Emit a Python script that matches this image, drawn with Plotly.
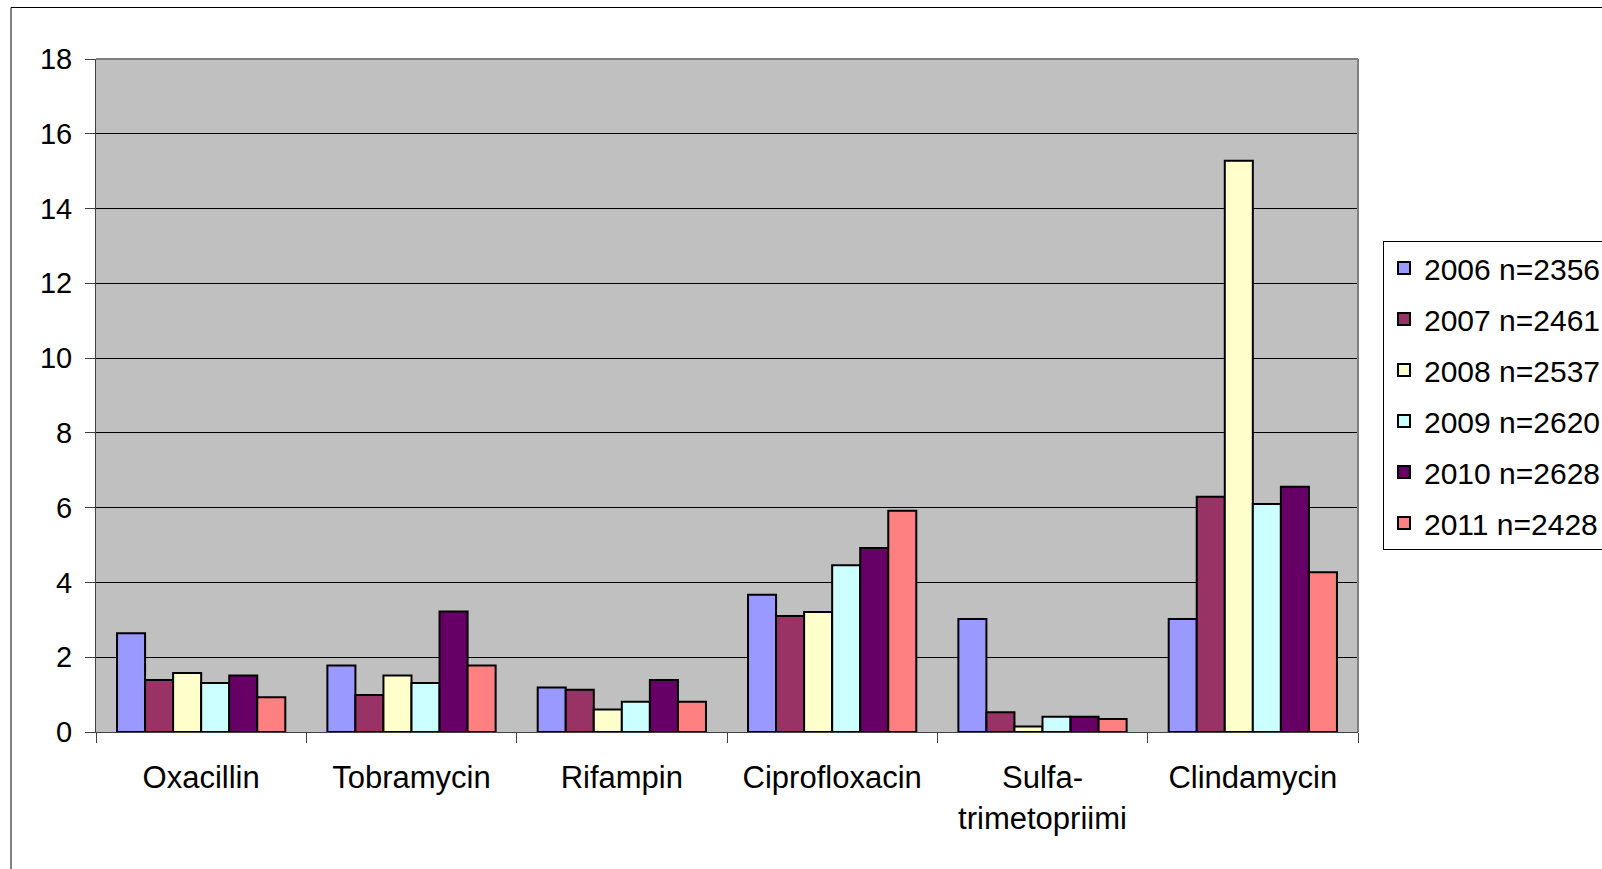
import plotly.graph_objects as go

categories = ["Oxacillin", "Tobramycin", "Rifampin", "Ciprofloxacin",
              "Sulfa-<br>trimetopriimi", "Clindamycin"]
series_names = ["2006 n=2356", "2007 n=2461", "2008 n=2537",
                "2009 n=2620", "2010 n=2628", "2011 n=2428"]
v2006 = [2.64, 1.78, 1.19, 3.67, 3.02, 3.02]
v2007 = [1.39, 0.99, 1.13, 3.10, 0.53, 6.29]
v2008 = [1.58, 1.51, 0.60, 3.21, 0.15, 15.28]
v2009 = [1.31, 1.31, 0.81, 4.46, 0.41, 6.10]
v2010 = [1.51, 3.22, 1.39, 4.92, 0.41, 6.56]
v2011 = [0.93, 1.78, 0.81, 5.92, 0.35, 4.27]
values = [v2006, v2007, v2008, v2009, v2010, v2011]
colors = ["#9999FF", "#993366", "#FFFFCC", "#CCFFFF", "#660066", "#FF8080"]
y_ticks = [0, 2, 4, 6, 8, 10, 12, 14, 16, 18]

W, H = 1602, 869
L, R, T, B = 96, 1358, 59, 732
pw, ph = R - L, B - T

fig = go.Figure()
for name, vals, col in zip(series_names, values, colors):
    fig.add_trace(go.Bar(
        x=categories, y=vals, name=name, legendgroup=name,
        marker=dict(color=col, line=dict(color="black", width=2)),
    ))

font_family = "Liberation Sans, Arial, sans-serif"
fig.update_layout(
    width=W, height=H,
    margin=dict(l=L, r=W - R, t=T, b=H - B, autoexpand=False),
    paper_bgcolor="white", plot_bgcolor="#C0C0C0",
    barmode="group", bargap=0.2, bargroupgap=0,
    font=dict(family=font_family, color="black"),
    showlegend=True,
    legend=dict(
        x=(1383 - L) / pw, xanchor="left",
        y=(B - 241) / ph, yanchor="top",
        bgcolor="white", bordercolor="black", borderwidth=1,
        font=dict(size=30, family=font_family, color="black"),
        traceorder="grouped", tracegroupgap=9,
    ),
    xaxis=dict(
        type="category", tickson="boundaries", ticks="outside", ticklen=10,
        tickcolor="#404040", showline=True, linecolor="#404040", linewidth=1,
        tickfont=dict(size=31, family=font_family, color="black"),
        ticklabelstandoff=18,
        showgrid=False, zeroline=False,
    ),
    yaxis=dict(
        range=[0, 18], tickvals=y_ticks, ticks="outside", ticklen=10,
        tickcolor="#404040", showline=True, linecolor="#404040", linewidth=1,
        tickfont=dict(size=29, family=font_family, color="black"),
        ticklabelstandoff=7,
        showgrid=True, gridcolor="black", gridwidth=1, zeroline=False,
    ),
    shapes=[
        dict(type="line", xref="paper", yref="paper", x0=0, x1=1, y0=1, y1=1,
             line=dict(color="#808080", width=2), layer="above"),
        dict(type="line", xref="paper", yref="paper", x0=1, x1=1, y0=0, y1=1,
             line=dict(color="#808080", width=2), layer="above"),
        dict(type="rect", xref="paper", yref="paper",
             x0=(11 - L) / pw, x1=2.0, y0=-1.0, y1=(B - 7.5) / ph,
             line=dict(color="black", width=1), layer="above"),
    ],
)

fig.write_html(
    "out.html",
    config={"displayModeBar": False},
    post_script="document.body.style.margin='0';document.body.style.overflow='hidden';",
)
